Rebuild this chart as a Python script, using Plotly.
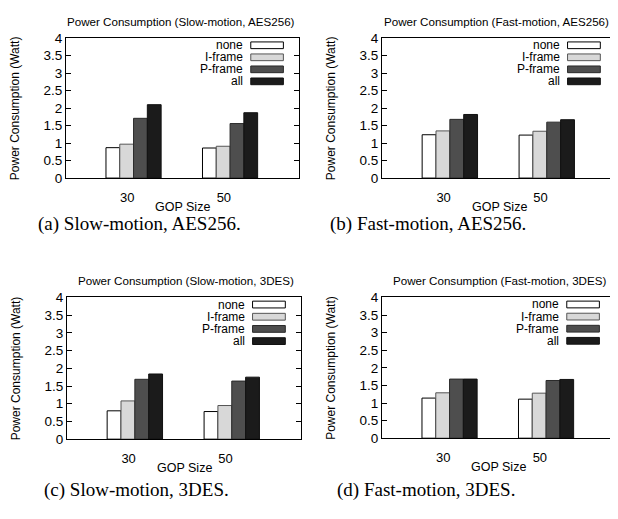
import plotly.graph_objects as go

# page body has an 8px margin; figure is sized to fit the 618x519 window
OFF = 8
W, H = 618 - OFF, 519 - OFF

gop_sizes = ["30", "50"]
series = ["none", "I-frame", "P-frame", "all"]

slow_aes = {"none": [0.87, 0.86], "I-frame": [0.97, 0.91], "P-frame": [1.71, 1.56], "all": [2.10, 1.87]}
fast_aes = {"none": [1.24, 1.23], "I-frame": [1.35, 1.34], "P-frame": [1.68, 1.60], "all": [1.82, 1.67]}
slow_3des = {"none": [0.80, 0.78], "I-frame": [1.08, 0.95], "P-frame": [1.69, 1.64], "all": [1.84, 1.75]}
fast_3des = {"none": [1.14, 1.11], "I-frame": [1.29, 1.28], "P-frame": [1.68, 1.64], "all": [1.68, 1.67]}

titles = ["Power Consumption (Slow-motion, AES256)", "Power Consumption (Fast-motion, AES256)",
          "Power Consumption (Slow-motion, 3DES)", "Power Consumption (Fast-motion, 3DES)"]
captions = ["(a) Slow-motion, AES256.", "(b) Fast-motion, AES256.",
            "(c) Slow-motion, 3DES.", "(d) Fast-motion, 3DES."]
y_ticks = [0, 0.5, 1, 1.5, 2, 2.5, 3, 3.5, 4]
y_ticktext = ["0", "0.5", "1", "1.5", "2", "2.5", "3", "3.5", "4"]

panels = [slow_aes, fast_aes, slow_3des, fast_3des]

fill = {"none": "#ffffff", "I-frame": "#d8d8d8", "P-frame": "#4e4e4e", "all": "#1b1b1b"}
edge = {"none": "#000000", "I-frame": "#555555", "P-frame": "#2a2a2a", "all": "#111111"}

# plot areas in window pixels: (left, right, top, bottom)
areas = [(66, 299, 32, 176), (382, 616, 32, 176), (67, 301, 299, 445), (382, 615, 299, 444)]
title_x = [181, 496, 186, 499]
caption_x = [139, 428, 136, 426]
caption_y = [223, 223, 497, 497]

SANS = "Liberation Sans, Arial, sans-serif"
SERIF = "Liberation Serif, Times New Roman, serif"


def px(x):
    return (x - OFF) / W


def py(y):
    return 1 - (y - OFF) / H


GROUP_STEP = 7
fig = go.Figure()
annotations = []
shapes = []

for p, (data, area) in enumerate(zip(panels, areas)):
    n = p + 1
    xa = "x" if n == 1 else f"x{n}"
    ya = "y" if n == 1 else f"y{n}"
    for k, s in enumerate(series):
        xs = [i * GROUP_STEP + k for i in range(len(gop_sizes))]
        fig.add_trace(go.Bar(x=xs, y=data[s], width=1, xaxis=xa, yaxis=ya,
                             marker=dict(color=fill[s], line=dict(color=edge[s], width=1)),
                             showlegend=False, name=s))
    l, r, t, b = area
    axis_common = dict(showline=True, linecolor="black", linewidth=1,
                       showgrid=False, zeroline=False)
    fig.layout[("xaxis" if n == 1 else f"xaxis{n}")] = dict(
        domain=[px(l), px(r)], anchor=ya, range=[-3.4, 13.5], mirror=True,
        tickvals=[i * GROUP_STEP + 1.05 for i in range(len(gop_sizes))], ticktext=gop_sizes,
        ticks="", ticklabelstandoff=7,
        tickfont=dict(family=SANS, size=13, color="black"), **axis_common)
    fig.layout[("yaxis" if n == 1 else f"yaxis{n}")] = dict(
        domain=[py(b), py(t)], anchor=xa, range=[0, 4], tickvals=y_ticks, ticktext=y_ticktext,
        ticks="inside", ticklen=5, tickcolor="black", mirror="allticks",
        tickfont=dict(family=SANS, size=13.5, color="black"), **axis_common)

    annotations.append(dict(text=titles[p], x=px(title_x[p]), y=py(t - 17.5),
                            xref="paper", yref="paper", showarrow=False,
                            font=dict(family=SANS, size=11.6, color="black"),
                            xanchor="center", yanchor="middle"))
    annotations.append(dict(text="Power Consumption (Watt)", x=px(l - 51), y=py((t + b) / 2),
                            xref="paper", yref="paper", showarrow=False, textangle=-90,
                            font=dict(family=SANS, size=12, color="black"),
                            xanchor="center", yanchor="middle"))
    annotations.append(dict(text="GOP Size", x=px((l + r) / 2), y=py(b + 30),
                            xref="paper", yref="paper", showarrow=False,
                            font=dict(family=SANS, size=12.5, color="black"),
                            xanchor="center", yanchor="middle"))
    annotations.append(dict(text=captions[p], x=px(caption_x[p]), y=py(caption_y[p]),
                            xref="paper", yref="paper", showarrow=False,
                            font=dict(family=SERIF, size=19, color="black"),
                            xanchor="center", yanchor="middle"))
    for k, s in enumerate(series):
        yc = 0.95 - k * 0.086
        annotations.append(dict(text=s, x=0.77, y=yc, xref=f"{xa} domain", yref=f"{ya} domain",
                                showarrow=False, xanchor="right", yanchor="middle",
                                font=dict(family=SANS, size=12, color="black")))
        shapes.append(dict(type="rect", xref=f"{xa} domain", yref=f"{ya} domain",
                           x0=0.793, x1=0.933, y0=yc - 0.024, y1=yc + 0.024,
                           fillcolor=fill[s], line=dict(color=edge[s], width=1)))

fig.update_layout(width=W, height=H, autosize=False, margin=dict(l=0, r=0, t=0, b=0),
                  paper_bgcolor="white", plot_bgcolor="white", barmode="overlay",
                  annotations=annotations, shapes=shapes,
                  font=dict(family=SANS, color="black"))

fig.write_html("out.html")
